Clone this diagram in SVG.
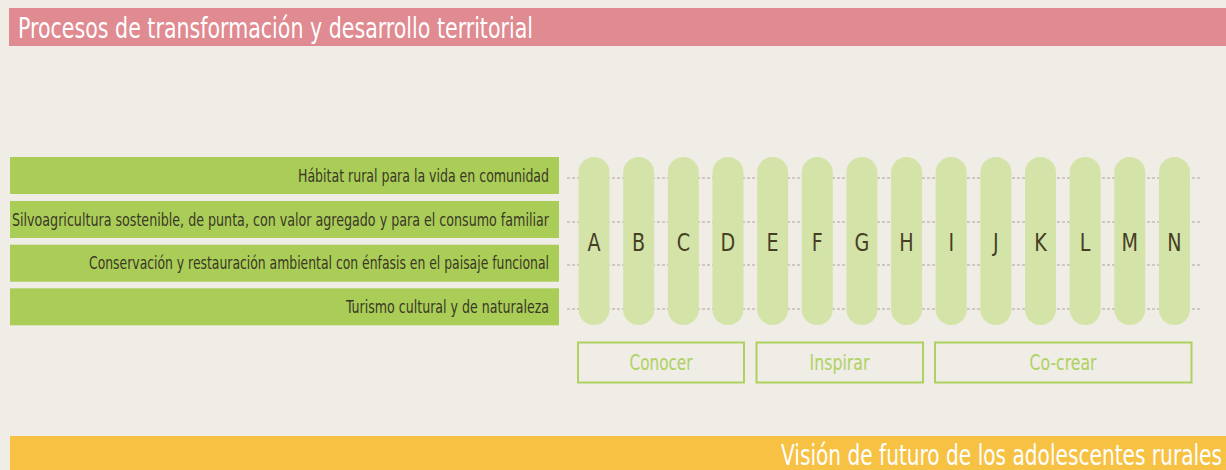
<svg xmlns="http://www.w3.org/2000/svg" width="1226" height="470" viewBox="0 0 1226 470">
<style>
.t{font-family:'DejaVu Sans Condensed','DejaVu Sans',sans-serif;font-stretch:condensed}
.band-title{fill:#ffffff;font-size:29px}
.bar{fill:#aacd58}
.bartxt{fill:#3a3826;font-size:18px;text-anchor:end}
.pill{fill:#d4e4a9}
.letter{fill:#463f24;font-size:25px;text-anchor:middle}
.phase{fill:none;stroke:#aed25f;stroke-width:2}
.phasetxt{fill:#aed25f;font-size:21px;text-anchor:middle}
.dash{stroke:#aaa69f;stroke-width:1;stroke-dasharray:3 2;fill:none}
</style>
<rect x="0" y="0" width="1226" height="470" fill="#f0ece6"/>

<g id="header">
<rect x="9" y="8" width="1217" height="38" fill="#e08a91"/>
<text class="t band-title" transform="matrix(0.75 0 0 1 18 0)" x="0" y="38" textLength="686.7" lengthAdjust="spacingAndGlyphs">Procesos de transformación y desarrollo territorial</text>
</g>

<g id="connectors">
<line class="dash" x1="567" y1="178" x2="1200" y2="178"/>
<line class="dash" x1="567" y1="222" x2="1200" y2="222"/>
<line class="dash" x1="567" y1="265" x2="1200" y2="265"/>
<line class="dash" x1="567" y1="309" x2="1200" y2="309"/>
</g>

<g id="bar1"><rect class="bar" x="10" y="157" width="549" height="37"/>
<text class="t bartxt" transform="matrix(0.75 0 0 1 549 0)" x="0" y="182" textLength="334.7" lengthAdjust="spacingAndGlyphs">Hábitat rural para la vida en comunidad</text></g>
<g id="bar2"><rect class="bar" x="10" y="201" width="549" height="37"/>
<text class="t bartxt" transform="matrix(0.75 0 0 1 549 0)" x="0" y="226" textLength="716" lengthAdjust="spacingAndGlyphs">Silvoagricultura sostenible, de punta, con valor agregado y para el consumo familiar</text></g>
<g id="bar3"><rect class="bar" x="10" y="244.7" width="549" height="37"/>
<text class="t bartxt" transform="matrix(0.75 0 0 1 549 0)" x="0" y="269.5" textLength="613.3" lengthAdjust="spacingAndGlyphs">Conservación y restauración ambiental con énfasis en el paisaje funcional</text></g>
<g id="bar4"><rect class="bar" x="10" y="288.3" width="549" height="37"/>
<text class="t bartxt" transform="matrix(0.75 0 0 1 549 0)" x="0" y="313" textLength="270.7" lengthAdjust="spacingAndGlyphs">Turismo cultural y de naturaleza</text></g>

<g id="pillA"><rect class="pill" x="578.5" y="157" width="31" height="168" rx="15.5"/><text class="t letter" transform="matrix(0.85 0 0 1 594 0)" x="0" y="251.5">A</text></g>
<g id="pillB"><rect class="pill" x="623.15" y="157" width="31" height="168" rx="15.5"/><text class="t letter" transform="matrix(0.85 0 0 1 638.65 0)" x="0" y="251.5">B</text></g>
<g id="pillC"><rect class="pill" x="667.8" y="157" width="31" height="168" rx="15.5"/><text class="t letter" transform="matrix(0.85 0 0 1 683.3 0)" x="0" y="251.5">C</text></g>
<g id="pillD"><rect class="pill" x="712.45" y="157" width="31" height="168" rx="15.5"/><text class="t letter" transform="matrix(0.85 0 0 1 727.95 0)" x="0" y="251.5">D</text></g>
<g id="pillE"><rect class="pill" x="757.1" y="157" width="31" height="168" rx="15.5"/><text class="t letter" transform="matrix(0.85 0 0 1 772.6 0)" x="0" y="251.5">E</text></g>
<g id="pillF"><rect class="pill" x="801.75" y="157" width="31" height="168" rx="15.5"/><text class="t letter" transform="matrix(0.85 0 0 1 817.25 0)" x="0" y="251.5">F</text></g>
<g id="pillG"><rect class="pill" x="846.4" y="157" width="31" height="168" rx="15.5"/><text class="t letter" transform="matrix(0.85 0 0 1 861.9 0)" x="0" y="251.5">G</text></g>
<g id="pillH"><rect class="pill" x="891.05" y="157" width="31" height="168" rx="15.5"/><text class="t letter" transform="matrix(0.85 0 0 1 906.55 0)" x="0" y="251.5">H</text></g>
<g id="pillI"><rect class="pill" x="935.7" y="157" width="31" height="168" rx="15.5"/><text class="t letter" transform="matrix(0.85 0 0 1 951.2 0)" x="0" y="251.5">I</text></g>
<g id="pillJ"><rect class="pill" x="980.35" y="157" width="31" height="168" rx="15.5"/><text class="t letter" transform="matrix(0.85 0 0 1 995.85 0)" x="0" y="251.5">J</text></g>
<g id="pillK"><rect class="pill" x="1025" y="157" width="31" height="168" rx="15.5"/><text class="t letter" transform="matrix(0.85 0 0 1 1040.5 0)" x="0" y="251.5">K</text></g>
<g id="pillL"><rect class="pill" x="1069.65" y="157" width="31" height="168" rx="15.5"/><text class="t letter" transform="matrix(0.85 0 0 1 1085.15 0)" x="0" y="251.5">L</text></g>
<g id="pillM"><rect class="pill" x="1114.3" y="157" width="31" height="168" rx="15.5"/><text class="t letter" transform="matrix(0.85 0 0 1 1129.8 0)" x="0" y="251.5">M</text></g>
<g id="pillN"><rect class="pill" x="1158.95" y="157" width="31" height="168" rx="15.5"/><text class="t letter" transform="matrix(0.85 0 0 1 1174.45 0)" x="0" y="251.5">N</text></g>

<g id="phase-conocer"><rect class="phase" x="578" y="342.5" width="166" height="40"/>
<text class="t phasetxt" transform="matrix(0.8 0 0 1 661 0)" x="0" y="370.5" textLength="78.75" lengthAdjust="spacingAndGlyphs">Conocer</text></g>
<g id="phase-inspirar"><rect class="phase" x="756.5" y="342.5" width="166.5" height="40"/>
<text class="t phasetxt" transform="matrix(0.8 0 0 1 839.5 0)" x="0" y="370.5" textLength="75" lengthAdjust="spacingAndGlyphs">Inspirar</text></g>
<g id="phase-cocrear"><rect class="phase" x="935" y="342.5" width="256.5" height="40"/>
<text class="t phasetxt" transform="matrix(0.8 0 0 1 1063 0)" x="0" y="370.5" textLength="83.75" lengthAdjust="spacingAndGlyphs">Co-crear</text></g>

<g id="footer">
<rect x="10" y="436" width="1216" height="34" fill="#f7c244"/>
<text class="t band-title" transform="matrix(0.75 0 0 1 781 0)" x="0" y="465" textLength="588" lengthAdjust="spacingAndGlyphs">Visión de futuro de los adolescentes rurales</text>
</g>
</svg>
